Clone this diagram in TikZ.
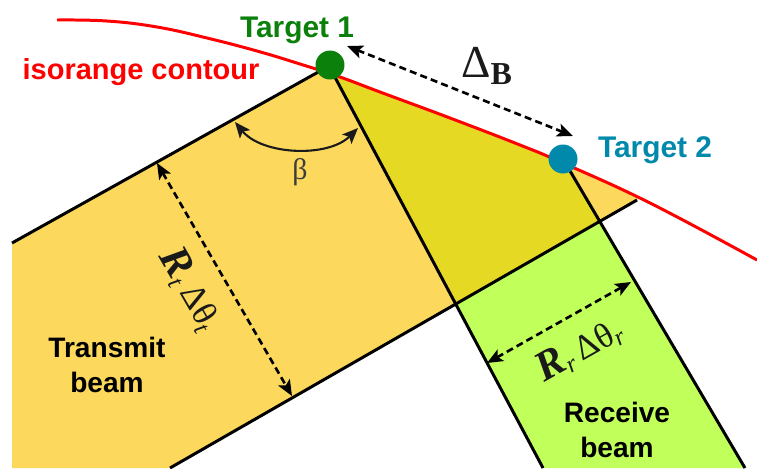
\documentclass[tikz,border=0pt]{standalone}
\usepackage{fontspec}
\setmainfont{Liberation Sans}
\newfontfamily\lserif{Liberation Serif}
\usetikzlibrary{arrows.meta}
\definecolor{txy}{HTML}{FCD85D}
\definecolor{ovy}{HTML}{E5D923}
\definecolor{rxg}{HTML}{C1FF5B}
\definecolor{tgreen}{HTML}{0B800B}
\definecolor{tblue}{HTML}{0089AA}
\definecolor{iso}{HTML}{FF0000}
\definecolor{ink}{HTML}{1A1A1A}
\newcommand{\bigR}{{\fontsize{24}{24}\selectfont\textbf{\textit{R}}}}
\begin{document}
\begin{tikzpicture}[x=0.02cm,y=-0.02cm,
  edge/.style={line width=1.7pt, black},
  contour/.style={line width=1.7pt, iso},
  tip/.tip={Stealth[length=9pt,width=7.5pt,inset=2pt]},
  dim/.style={line width=1.5pt, dash pattern=on 4pt off 2.4pt, tip-tip},
  dot/.style={circle, inner sep=0pt, minimum size=16.5pt},
  lbl/.style={font=\bfseries\fontsize{16}{20.4}\selectfont, align=center},
  tgt/.style={font=\bfseries\fontsize{17}{20}\selectfont, anchor=base},
  mathlbl/.style={font=\lserif\fontsize{20}{20}\selectfont, text=ink}
]
\useasboundingbox (0,0) rectangle (757,468);
% key points
\coordinate (tl) at (12,243);
\coordinate (apex1) at (329,66);
\coordinate (apex2) at (563,159);
\coordinate (tbA) at (170,468);
\coordinate (tbB) at (637,200);
\coordinate (rlB) at (543,468);
\coordinate (rrB) at (745,468);
\coordinate (xl) at (intersection of apex1--rlB and tbA--tbB);
\coordinate (xr) at (intersection of apex2--rrB and tbA--tbB);
\def\contourpts{(57,20) (107,21) (157,27) (207,38) (257,51) (300,64) (340,77) (380,92) (450,118) (520,145) (563,163) (650,203) (757,260)}
% fills, clipped below the isorange contour
\begin{scope}
  \clip plot[smooth, tension=0.7] coordinates {\contourpts} -- (757,468) -- (0,468) -- (0,20) -- cycle;
  \fill[txy] (tl) -- (420,15) -- (720,152) -- (tbA) -- (12,468) -- cycle;
  \fill[rxg] (294,0) -- (469,0) -- (rrB) -- (rlB) -- cycle;
  \fill[ovy] (294,0) -- (469,0) -- (xr) -- (xl) -- cycle;
\end{scope}
% beam edges
\draw[edge] (tl) -- (apex1);
\draw[edge] (apex1) -- (rlB);
\draw[edge] (apex2) -- (rrB);
\draw[edge] (tbA) -- (tbB);
% contour
\draw[contour] plot[smooth, tension=0.7] coordinates {\contourpts};
% targets
\node[dot, fill=tgreen] (t1) at (330,65) {};
\node[dot, fill=tblue] (t2) at (563,159) {};
\node[tgt, text=tgreen] (t1lbl) at (297,37) {Target 1};
\node[tgt, text=tblue] (t2lbl) at (655,157) {Target 2};
\node[tgt, text=iso, font=\bfseries\fontsize{16.5}{20}\selectfont] (isolbl) at (141,79) {isorange contour};
% beam labels
\node[lbl] (txlbl) at (107,365) {Transmit\\beam};
\node[lbl] (rxlbl) at (617,430) {Receive\\beam};
% Delta B
\coordinate (dbA) at (347,46);
\coordinate (dbB) at (573,136);
\draw[dim] (dbA) -- (dbB);
\node[font=\lserif\fontsize{26}{26}\selectfont, text=ink] (dblbl) at (487,66) {Δ\textsubscript{\textbf{B}}};
% beta
\coordinate (bA) at (235,122);
\coordinate (bB) at (358,128);
\draw[ink, line width=1.2pt, tip-tip] (bA) .. controls (262,155) and (328,158) .. (bB);
\node[font=\lserif\fontsize{17}{17}\selectfont, text=ink!85] (betalbl) at (300,172) {β};
% R_t dtheta_t
\coordinate (rtA) at (157,163);
\coordinate (rtB) at (292,396);
\draw[dim] (rtA) -- (rtB);
\node[mathlbl, rotate=-60] (rtlbl) at (190,290) {\bigR\textsubscript{\textit{t}}\hspace{0.15em}Δθ\textsubscript{\textit{t}}};
% R_r dtheta_r
\coordinate (rrA) at (487,363);
\coordinate (rrC) at (631,282);
\draw[dim] (rrA) -- (rrC);
\node[mathlbl, rotate=29.5] (rrlbl) at (580,350) {\bigR\textsubscript{\textit{r}}\hspace{0.15em}Δθ\textsubscript{\textit{r}}};
\end{tikzpicture}
\end{document}
